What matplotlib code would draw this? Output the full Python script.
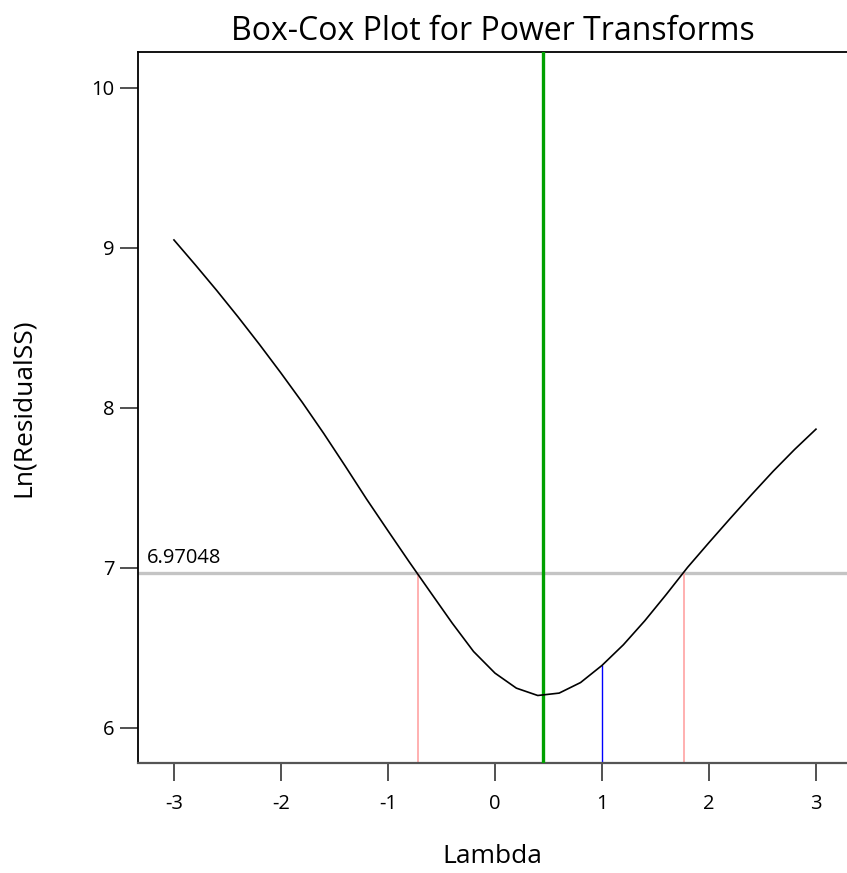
import matplotlib
matplotlib.use("Agg")
import matplotlib.pyplot as plt
import numpy as np

# Data
lambdas = [-3.0, -2.8, -2.6, -2.4, -2.2, -2.0, -1.8, -1.6, -1.4, -1.2, -1.0,
           -0.8, -0.6, -0.4, -0.2, 0.0, 0.2, 0.4, 0.6, 0.8, 1.0,
           1.2, 1.4, 1.6, 1.8, 2.0, 2.2, 2.4, 2.6, 2.8, 3.0]
ln_rss = [9.05, 8.894, 8.734, 8.568, 8.396, 8.218, 8.034, 7.840, 7.637, 7.43, 7.232,
          7.036, 6.845, 6.655, 6.477, 6.342, 6.248, 6.202, 6.217, 6.283, 6.39,
          6.519, 6.669, 6.833, 7.003, 7.158, 7.31, 7.459, 7.604, 7.74, 7.867]
best_lambda = 0.446
current_lambda = 1.0
ci_low = -0.722
ci_high = 1.763
ci_level = 6.97048
x_ticks = [-3, -2, -1, 0, 1, 2, 3]
y_ticks = [6, 7, 8, 9, 10]

plt.rcParams['font.family'] = ['Open Sans', 'DejaVu Sans']

fig = plt.figure(figsize=(8.47, 8.73), dpi=100)
ax = fig.add_axes([138/847, 1-763/873, 1-138/847, (763-52)/873])

ax.set_xlim(-3.336, 3.29)
ax.set_ylim(5.78, 10.225)

ax.axhline(ci_level, color='#c4c4c4', lw=2.4, zorder=1)
cur_y = np.interp(current_lambda, lambdas, ln_rss)
ax.vlines([ci_low, ci_high], 5.78, ci_level, color='#ffaaaa', lw=1.3, zorder=2)
ax.vlines([current_lambda], 5.78, cur_y, color='#0000ff', lw=1.0, zorder=2)
ax.axvline(best_lambda, color='#00a000', lw=2.4, zorder=3)
ax.plot(lambdas, ln_rss, color='black', lw=1.2, zorder=4)

ax.text(-3.25, ci_level + 0.03, f"{ci_level:.5f}", fontsize=14.5, ha='left', va='bottom')

ax.set_xticks(x_ticks)
ax.set_yticks(y_ticks)
ax.set_xticklabels([str(v) for v in x_ticks])
ax.set_yticklabels([str(v) for v in y_ticks])
ax.tick_params(axis='both', direction='out', length=13, width=1.2, labelsize=14.5,
               colors='#333333', labelcolor='black')
ax.tick_params(axis='x', pad=9)
ax.tick_params(axis='y', pad=4)

for s in ['left', 'top']:
    ax.spines[s].set_color('black')
    ax.spines[s].set_linewidth(1.3)
ax.spines['bottom'].set_color('#555555')
ax.spines['bottom'].set_linewidth(1.6)
ax.spines['right'].set_visible(False)

ax.set_title("Box-Cox Plot for Power Transforms", fontsize=23, pad=9)
ax.set_xlabel("Lambda", fontsize=19, labelpad=22)
ax.set_ylabel("Ln(ResidualSS)", fontsize=19, labelpad=40)

fig.savefig("out.png", dpi=100)
